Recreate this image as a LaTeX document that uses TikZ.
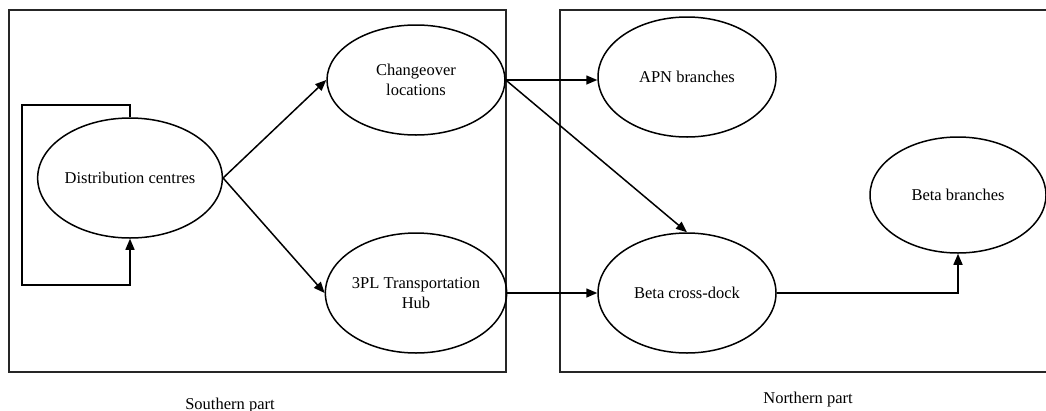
\documentclass[tikz,border=0pt]{standalone}
\usepackage{fontspec}
\setmainfont{Liberation Serif}
\usetikzlibrary{shapes.geometric,arrows.meta}
\tikzset{
  region/.style={draw=black!85, line width=1.8pt},
  place/.style={draw, ellipse, line width=1.5pt, inner sep=0pt, align=center,
    minimum width=178pt, minimum height=120pt,
    font=\fontsize{16.5}{20}\selectfont},
  flow/.style={line width=1.5pt, -{Triangle[length=11pt,width=9pt]}},
  caption/.style={anchor=base, font=\fontsize{16.5}{20}\selectfont}
}
\begin{document}
\begin{tikzpicture}[x=1pt,y=-1pt]
\useasboundingbox (0,0) rectangle (1046,410);
% the two regions
\draw[region] (9,10) rectangle (506,372);
\draw[region] (560,10) rectangle (1070,372);
% locations
\node[place] (dc) at (130,178) {Distribution centres};
\node[place, minimum height=110pt] (ch) at (416,80) {Changeover\\locations};
\node[place] (tpl) at (416,293) {3PL Transportation\\Hub};
\node[place] (apn) at (687,77) {APN branches};
\node[place] (bcd) at (687,293) {Beta cross-dock};
\node[place, minimum width=176pt, minimum height=116pt] (bb) at (958,195) {Beta branches};
% self loop on the distribution centres
\coordinate (lt) at (22,105);
\coordinate (lb) at (22,285);
\draw[flow] (dc.north) |- (lt) -- (lb) -| (dc.south);
% flows
\draw[flow] (dc.east) -- (ch.west);
\draw[flow] (dc.east) -- (tpl.west);
\draw[flow] (ch.east) -- (ch.east -| apn.west);
\draw[flow] (ch.east) -- (bcd.north);
\draw[flow] (tpl.east) -- (bcd.west);
\draw[flow] (bcd.east) -| (bb.south);
% region captions
\node[caption] (south) at (230,409) {Southern part};
\node[caption] (north) at (808,403) {Northern part};
\end{tikzpicture}
\end{document}
